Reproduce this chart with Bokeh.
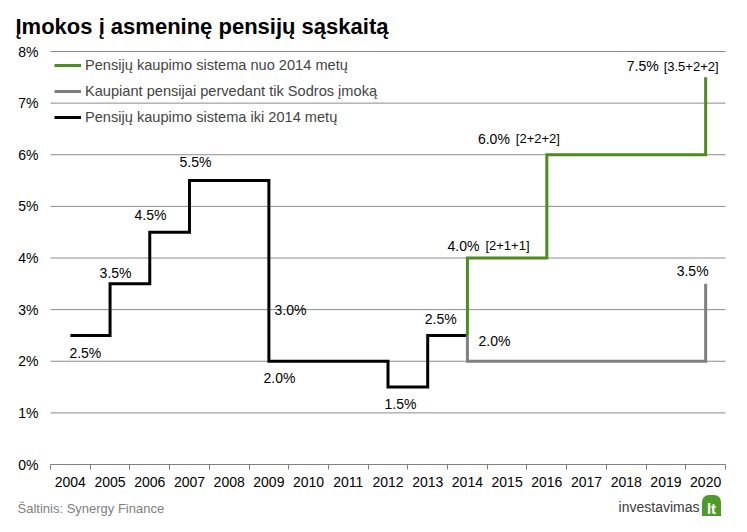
from bokeh.plotting import figure
from bokeh.models import Range1d, FixedTicker, Legend, LegendItem, Label, ColumnDataSource
from bokeh.embed import file_html
from bokeh.resources import INLINE
from bokeh.core.properties import value

# ---------------- data ----------------
years = list(range(2004, 2021))
year_labels = [str(y) for y in years]
y_ticks = [0, 1, 2, 3, 4, 5, 6, 7, 8]
y_tick_labels = ["0%", "1%", "2%", "3%", "4%", "5%", "6%", "7%", "8%"]

old_years = [2004, 2005, 2006, 2007, 2008, 2009, 2010, 2011, 2012, 2013, 2014]
old_rates = [2.5, 3.5, 4.5, 5.5, 5.5, 2.0, 2.0, 2.0, 1.5, 2.5, 2.5]

new_years = [2014, 2015, 2016, 2017, 2018, 2019, 2020]
new_rates = [4.0, 4.0, 6.0, 6.0, 6.0, 6.0, 7.5]

sodra_years = [2014, 2015, 2016, 2017, 2018, 2019, 2020]
sodra_rates = [2.0, 2.0, 2.0, 2.0, 2.0, 2.0, 3.5]

series_names = ["Pensijų kaupimo sistema nuo 2014 metų",
                "Kaupiant pensijai pervedant tik Sodros įmoką",
                "Pensijų kaupimo sistema iki 2014 metų"]

lab_years = [2004, 2005, 2006, 2007, 2009, 2009, 2012, 2013, 2014, 2020]
lab_values = [2.5, 3.5, 4.5, 5.5, 3.0, 2.0, 1.5, 2.5, 2.0, 3.5]
lab_texts = ["2.5%", "3.5%", "4.5%", "5.5%", "3.0%", "2.0%", "1.5%", "2.5%", "2.0%", "3.5%"]

comp_years = [2014, 2016, 2020]
comp_values = [4.0, 6.0, 7.5]
comp_texts = ["4.0%", "6.0%", "7.5%"]
comp_parts = ["[2+1+1]", "[2+2+2]", "[3.5+2+2]"]

title_text = "Įmokos į asmeninę pensijų sąskaitą"
source_text = "Šaltinis: Synergy Finance"
logo_text = "investavimas"
logo_tld = "lt"

# ---------------- styles / layout ----------------
FONT = "Liberation Sans"
GREEN = "#4d8c1e"
GRAY = "#7f7f7f"
GRID = "#8c8c8c"

W, H = 731, 516                 # canvas
PL, PR, PT, PB = 50, 725, 51, 464   # plot area in canvas pixels

lab_dx = [15, 5.5, 0.75, 6, 21.6, 10.6, 12.5, 13, 27, -13]
lab_dy = [18, -11, -17, -19, 0, 17, 16.5, -16, -20, -13]
comp_dx_val = [12, -37, -47]
comp_dx_part = [18, -31, -42]
comp_dy = [-12.5, -16, -11]

x0, x1 = years[0] - 0.5, years[-1] + 0.5
y0, y1 = y_ticks[0], y_ticks[-1]
sx = (PR - PL) / (x1 - x0)
sy = (PB - PT) / (y1 - y0)

p = figure(width=W, height=H, output_backend="svg", toolbar_location=None,
           x_range=Range1d(x0 - PL / sx, x1 + (W - PR) / sx),
           y_range=Range1d(y0 - (H - PB) / sy, y1 + PT / sy),
           min_border=0)
p.title.visible = False
p.outline_line_color = None
p.background_fill_color = "white"
p.border_fill_color = "white"
p.xgrid.visible = False
p.ygrid.visible = False

# horizontal gridlines at the y ticks (limited to the plot area)
grid_y = y_ticks[1:]
p.segment(x0=[x0] * len(grid_y), y0=grid_y, x1=[x1] * len(grid_y), y1=grid_y,
          line_color=GRID, line_width=1)

# x axis
xa = p.xaxis[0]
xa.fixed_location = y0
xa.bounds = (x0, x1)
xa.ticker = FixedTicker(ticks=years, minor_ticks=[y - 0.5 for y in years] + [x1])
xa.major_label_overrides = {y: l for y, l in zip(years, year_labels)}
xa.major_tick_line_color = None
xa.major_tick_in = 0
xa.major_tick_out = 0
xa.minor_tick_in = 0
xa.minor_tick_out = 5
xa.minor_tick_line_color = GRAY
xa.axis_line_color = GRAY
xa.major_label_standoff = 7
xa.major_label_text_font = FONT
xa.major_label_text_font_size = "14px"
xa.major_label_text_color = "black"

# y axis
ya = p.yaxis[0]
ya.fixed_location = x0
ya.ticker = FixedTicker(ticks=y_ticks)
ya.major_label_overrides = {t: l for t, l in zip(y_ticks, y_tick_labels)}
ya.axis_line_color = None
ya.major_tick_line_color = None
ya.minor_tick_line_color = None
ya.major_tick_out = 0
ya.major_tick_in = 0
ya.major_label_standoff = 12
ya.major_label_text_font = FONT
ya.major_label_text_font_size = "14px"
ya.major_label_text_color = "black"

# lines
r_old = p.step(old_years, old_rates, mode="after", line_width=3, line_color="black",
               line_join="miter")
r_sodra = p.step([old_years[-1]] + sodra_years, [old_rates[-1]] + sodra_rates, mode="after",
                 line_width=3, line_color=GRAY, line_join="miter")
r_new = p.step([old_years[-1]] + new_years, [old_rates[-1]] + new_rates, mode="after",
               line_width=3, line_color=GREEN, line_join="miter")

legend = Legend(items=[LegendItem(label=series_names[0], renderers=[r_new]),
                       LegendItem(label=series_names[1], renderers=[r_sodra]),
                       LegendItem(label=series_names[2], renderers=[r_old])],
                location=(PL + 4, H - PT - 4 - 72), margin=0, padding=0, spacing=6,
                glyph_width=27, glyph_height=20, label_height=20, label_standoff=4,
                label_text_font=FONT, label_text_font_size="14.6px",
                background_fill_alpha=0, border_line_color=None)
p.add_layout(legend)

# data labels
src = ColumnDataSource(dict(x=lab_years, y=lab_values, t=lab_texts, dx=lab_dx, dy=lab_dy))
p.text(x="x", y="y", text="t", x_offset="dx", y_offset="dy", source=src,
       text_align="center", text_baseline="middle", text_font=value(FONT),
       text_font_size="14px", text_color="black")
src2 = ColumnDataSource(dict(x=comp_years, y=comp_values, t=comp_texts, p=comp_parts,
                             dxv=comp_dx_val, dxp=comp_dx_part, dy=comp_dy))
p.text(x="x", y="y", text="t", x_offset="dxv", y_offset="dy", source=src2,
       text_align="right", text_baseline="middle", text_font=value(FONT),
       text_font_size="14px", text_color="black")
p.text(x="x", y="y", text="p", x_offset="dxp", y_offset="dy", source=src2,
       text_align="left", text_baseline="middle", text_font=value(FONT),
       text_font_size="13px", text_color="black")

# title, source, logo (screen units, frame == canvas)
p.add_layout(Label(x=15, y=H - 26, x_units="screen", y_units="screen", text=title_text,
                   text_font=FONT, text_font_size="22px", text_font_style="bold",
                   text_color="black", text_baseline="middle"))
p.add_layout(Label(x=17, y=H - 508, x_units="screen", y_units="screen", text=source_text,
                   text_font=FONT, text_font_size="13px", text_color="#808080",
                   text_baseline="middle"))
p.add_layout(Label(x=699, y=H - 506, x_units="screen", y_units="screen", text=logo_text,
                   text_font=FONT, text_font_size="14px", text_color="#3c3c3c",
                   text_baseline="middle", text_align="right"))
p.add_layout(Label(x=711, y=H - 508, x_units="screen", y_units="screen", text=logo_tld,
                   text_font=FONT, text_font_size="15px", text_color="white",
                   text_font_style="bold", text_baseline="middle", text_align="center",
                   background_fill_color="#4f9a2a", padding=5, border_radius=7))

open("out.html", "w").write(file_html(p, INLINE))
